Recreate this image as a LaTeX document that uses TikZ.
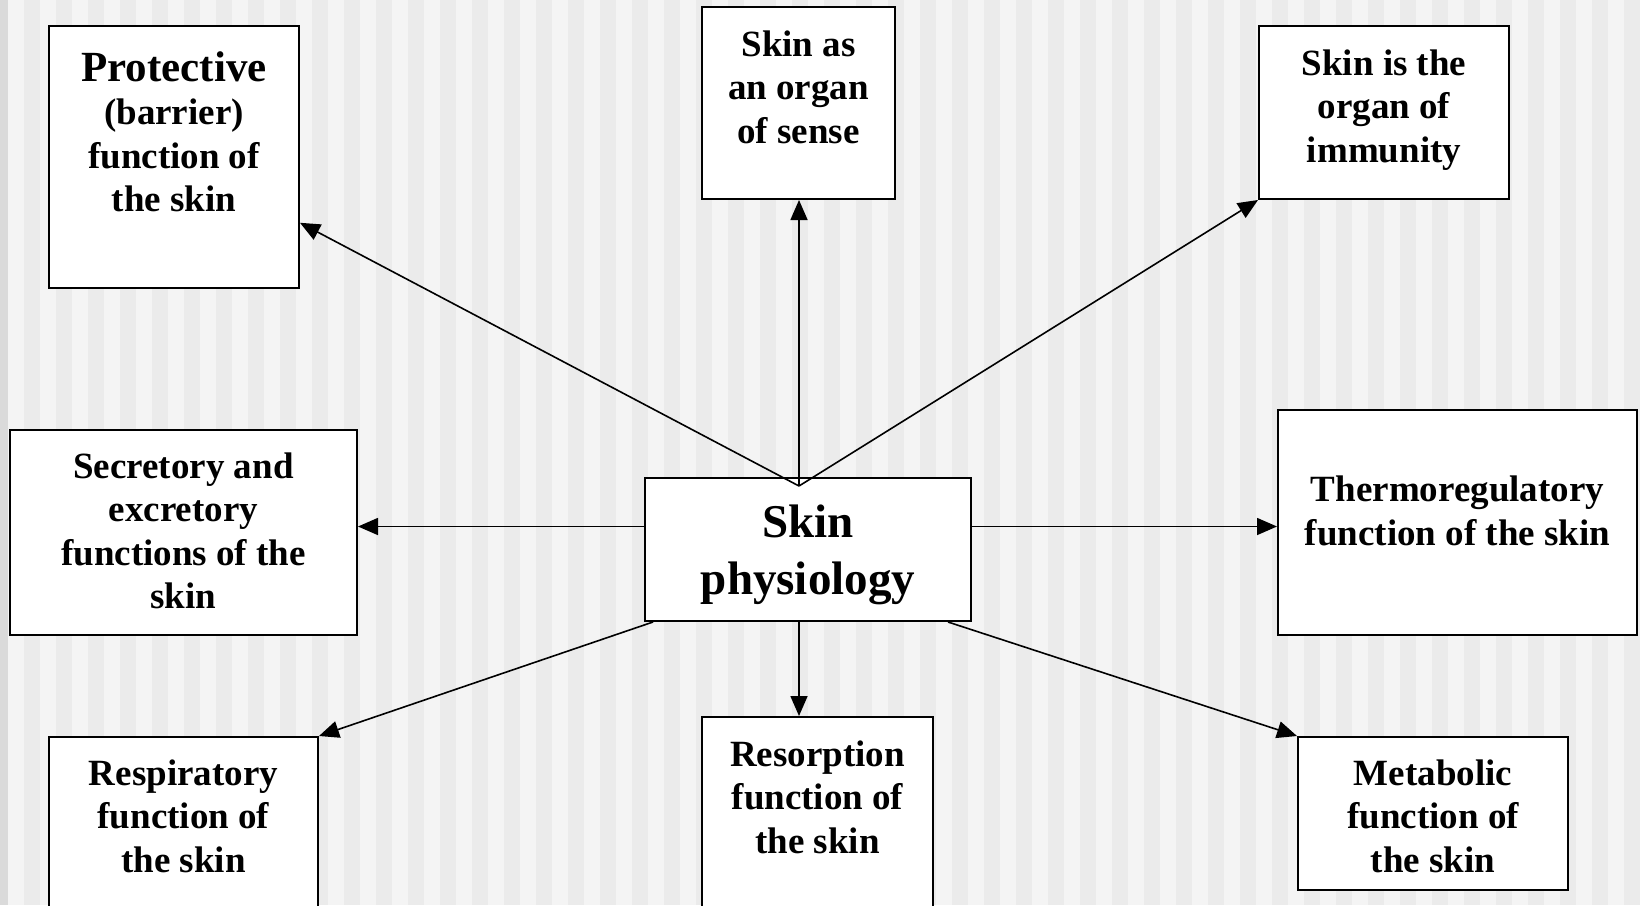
\documentclass[tikz,border=0pt]{standalone}
\usepackage{fontspec}
\setmainfont{Liberation Serif}
\usetikzlibrary{arrows.meta}
\definecolor{stripelight}{HTML}{F4F4F4}
\definecolor{stripedark}{HTML}{EBEBEB}
\definecolor{edgegray}{HTML}{DADADA}

\begin{document}
\begin{tikzpicture}[x = 1pt, y = -1pt,
    box/.style = {draw, fill = white, line width = 2pt, inner sep = 0pt},
    txt/.style = {align = center, inner sep = 0pt, font = \bfseries\fontsize{37}{43.5}\selectfont},
    arr/.style = {line width = 1.6pt, -{Triangle[length = 20pt, width = 17pt]}}]
    \clip (0,0) rectangle (1640,905);
    \fill[stripedark] (0,0) rectangle (1640,905);
    \foreach \x in {8, 40, ..., 1640}
    \fill[stripelight] (\x,0) rectangle (\x+16,905);
    \fill[edgegray] (0,0) rectangle (8,905);
    \node (prot) at (174,157) [box, minimum width = 250pt, minimum height = 262pt] {};
    \node (sense) at (798.5,103) [box, minimum width = 193pt, minimum height = 192pt] {};
    \node (immun) at (1384,112.5) [box, minimum width = 250pt, minimum height = 173pt] {};
    \node (secr) at (183.5,532.5) [box, minimum width = 347pt, minimum height = 205pt] {};
    \node (phys) at (808,549.5) [box, minimum width = 326pt, minimum height = 143pt] {};
    \node (thermo) at (1457.5,522.5) [box, minimum width = 359pt, minimum height = 225pt] {};
    \node (resp) at (183.5,837) [box, minimum width = 269pt, minimum height = 200pt] {};
    \node (resorp) at (817.5,821) [box, minimum width = 231pt, minimum height = 208pt] {};
    \node (metab) at (1433,813.5) [box, minimum width = 270pt, minimum height = 153pt] {};
    \node (prot-txt) at (174,132) [txt] {{\fontsize{43}{48}\selectfont Protective}\\(barrier)\\function of\\the skin};
    \node (sense-txt) at (798.5,87) [txt] {Skin as\\an organ\\of sense};
    \node (immun-txt) at (1384,110) [txt] {Skin is the\\organ of\\immunity};
    \node (secr-txt) at (183.5,531) [txt] {Secretory and\\excretory\\functions of the\\skin};
    \node (phys-txt) at (808,555) [txt, font = \bfseries\fontsize{47}{57.5}\selectfont] {Skin\\physiology};
    \node (thermo-txt) at (1457.5,511) [txt] {Thermoregulatory\\function of the skin};
    \node (resp-txt) at (183.5,816) [txt] {Respiratory\\function of\\the skin};
    \node (resorp-txt) at (817.5,797) [txt] {Resorption\\function of\\the skin};
    \node (metab-txt) at (1433,816) [txt] {Metabolic\\function of\\the skin};
    \coordinate (hub) at (799,486);
    \draw[arr] (hub) -- (prot);
    \draw[arr] (hub) -- (hub |- sense.south);
    \draw[arr] (hub) -- (immun.south west);
    \draw[arr] ([yshift = 23pt]phys.west) -- ([yshift = 6pt]secr.east);
    \draw[arr] ([yshift = 23pt]phys.east) -- ([yshift = -4pt]thermo.west);
    \draw[arr] ([xshift = 9pt]phys.south west) -- (resp.north east);
    \draw[arr] (hub |- phys.south) -- (hub |- resorp.north);
    \draw[arr] ([xshift = -24pt]phys.south east) -- (metab.north west);
\end{tikzpicture}
\end{document}
